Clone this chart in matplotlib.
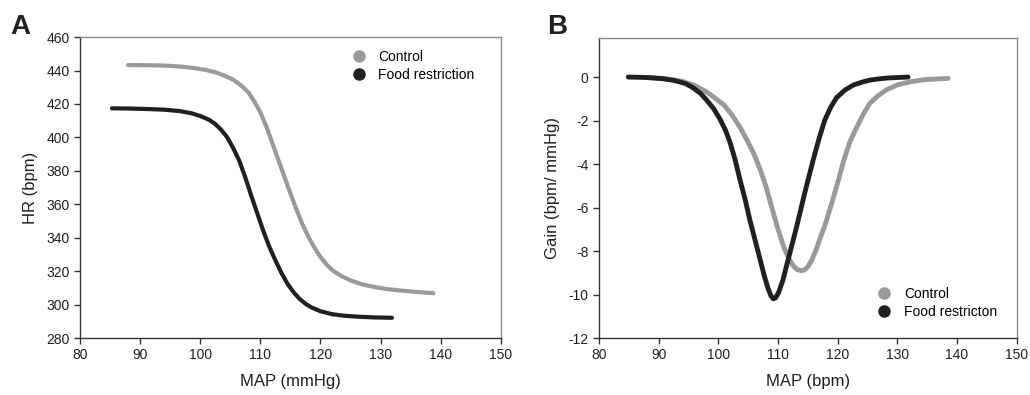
import numpy as np
import matplotlib.pyplot as plt
from matplotlib.lines import Line2D

plt.rcParams['font.family'] = ['Liberation Sans', 'DejaVu Sans']
plt.rcParams['axes.unicode_minus'] = False

# Panel A: baroreflex curves, HR (bpm) vs MAP (mmHg)
mapCtrlA = [88, 91, 94, 97, 99, 101, 102.5, 104, 105.5, 107, 108, 109, 110, 111,
            112, 113, 114, 115, 116, 117, 118, 119, 120, 121, 122, 123.5, 125,
            127, 129, 131, 133, 135.5, 138.8]
hrCtrl = [443.3, 443.2, 443, 442.3, 441.5, 440.3, 439, 437, 434.5, 430.5, 427,
          421.5, 415, 406.5, 396.5, 386.5, 376.5, 366.5, 357, 348, 340.5, 334,
          328.5, 324, 320.5, 317, 314.5, 312, 310.5, 309.3, 308.5, 307.7, 306.8]
mapFoodA = [85.3, 88, 91, 94, 96.5, 98.5, 100, 101.5, 102.5, 103.5, 104.5, 105.5,
            106.5, 107.5, 108.5, 109.5, 110.5, 111.5, 112.5, 113.5, 114.5, 115.5,
            116.5, 117.5, 118.5, 120, 122, 124, 126.5, 129, 131.9]
hrFood = [417.4, 417.3, 417, 416.6, 415.8, 414.5, 412.8, 410.5, 408, 404.5, 400,
          393.5, 386, 376, 365, 354.5, 344, 334.5, 326.5, 319, 312.5, 307.5, 303.5,
          300.5, 298.3, 296, 294.2, 293.3, 292.7, 292.3, 292.1]

# Panel B: gain (bpm/mmHg) vs MAP
mapCtrlB = [88, 91, 94, 96, 98, 99.5, 101, 102.3, 103.6, 104.8, 105.9, 107, 108,
            109, 110, 111, 112, 112.6, 113.2, 113.8, 114.4, 115, 115.6, 116.3, 117,
            118, 119, 120, 121, 122, 123.2, 124.3, 125.4, 126.8, 128.2, 130, 132.1,
            134.5, 138.5]
gainCtrl = [-0.02, -0.07, -0.2, -0.38, -0.68, -0.98, -1.3, -1.75, -2.3, -2.9, -3.5,
            -4.25, -5.05, -6.05, -7.0, -7.85, -8.45, -8.7, -8.85, -8.9, -8.88, -8.72,
            -8.45, -8.0, -7.45, -6.7, -5.8, -4.85, -3.85, -3.0, -2.3, -1.7, -1.2,
            -0.85, -0.58, -0.36, -0.22, -0.12, -0.06]
mapFoodB = [84.9, 88, 90.5, 92.5, 94.5, 95.8, 97, 98, 99.2, 100.3, 101.2, 102,
            102.8, 103.6, 104.5, 105.3, 106.2, 107, 107.7, 108.3, 108.8, 109.2,
            109.6, 110.1, 110.8, 111.5, 112.3, 113.1, 113.8, 114.5, 115.2, 115.9,
            116.8, 117.8, 118.8, 119.8, 121.2, 122.6, 124, 125.4, 127, 128.5, 131.8]
gainFood = [0, -0.02, -0.07, -0.15, -0.3, -0.5, -0.75, -1.05, -1.45, -1.95, -2.45,
            -3.05, -3.8, -4.7, -5.65, -6.6, -7.55, -8.4, -9.15, -9.7, -10.05, -10.2,
            -10.15, -9.9, -9.35, -8.6, -7.75, -6.9, -6.1, -5.3, -4.55, -3.8, -2.9,
            -2.0, -1.4, -0.95, -0.6, -0.37, -0.24, -0.14, -0.08, -0.04, 0]

grey = '#9a9a9c'
black = '#231f20'

fig = plt.figure(figsize=(10.30, 3.95), dpi=100)
axA = fig.add_axes([0.0777, 0.1443, 0.4085, 0.7617])
axB = fig.add_axes([0.5816, 0.1443, 0.4055, 0.7597])


def style(ax):
    for s in ['left', 'bottom']:
        ax.spines[s].set_color('#333333')
        ax.spines[s].set_linewidth(1.0)
    for s in ['top', 'right']:
        ax.spines[s].set_color('#8a8a8a')
        ax.spines[s].set_linewidth(1.0)
    ax.tick_params(direction='out', length=4, width=1, color='#333333',
                   labelsize=10, labelcolor=black, top=False, right=False)


axA.plot(mapCtrlA, hrCtrl, color=grey, lw=3.0, solid_capstyle='round',
         solid_joinstyle='round')
axA.plot(mapFoodA, hrFood, color=black, lw=3.0, solid_capstyle='round',
         solid_joinstyle='round')
axA.set_xlim(80, 150)
axA.set_ylim(280, 460)
axA.set_xticks(np.arange(80, 151, 10))
axA.set_yticks(np.arange(280, 461, 20))
axA.set_xlabel('MAP (mmHg)', fontsize=12, color=black, labelpad=8)
axA.set_ylabel('HR (bpm)', fontsize=12, color=black, labelpad=6)
style(axA)

axB.plot(mapCtrlB, gainCtrl, color=grey, lw=3.5, solid_capstyle='round',
         solid_joinstyle='round')
axB.plot(mapFoodB, gainFood, color=black, lw=3.5, solid_capstyle='round',
         solid_joinstyle='round')
axB.set_xlim(80, 150)
axB.set_ylim(-12, 1.8)
axB.set_xticks(np.arange(80, 151, 10))
axB.set_yticks(np.arange(-12, 1, 2))
axB.set_xlabel('MAP (bpm)', fontsize=12, color=black, labelpad=8)
axB.set_ylabel('Gain (bpm/ mmHg)', fontsize=12, color=black, labelpad=6)
style(axB)

hA = [Line2D([], [], ls='none', marker='o', ms=8, color=grey),
      Line2D([], [], ls='none', marker='o', ms=8, color=black)]
axA.legend(hA, ['Control', 'Food restriction'], loc='upper left',
           bbox_to_anchor=(0.62, 0.99), frameon=False, fontsize=10,
           handletextpad=0.8, labelspacing=0.3, borderpad=0.2, handlelength=1.2)
axB.legend(hA, ['Control', 'Food restricton'], loc='lower left',
           bbox_to_anchor=(0.64, 0.03), frameon=False, fontsize=10,
           handletextpad=0.8, labelspacing=0.3, borderpad=0.2, handlelength=1.2)

fig.text(0.010, 0.915, 'A', fontsize=20, fontweight='bold', color=black)
fig.text(0.531, 0.915, 'B', fontsize=20, fontweight='bold', color=black)

fig.savefig('out.png', dpi=100)
